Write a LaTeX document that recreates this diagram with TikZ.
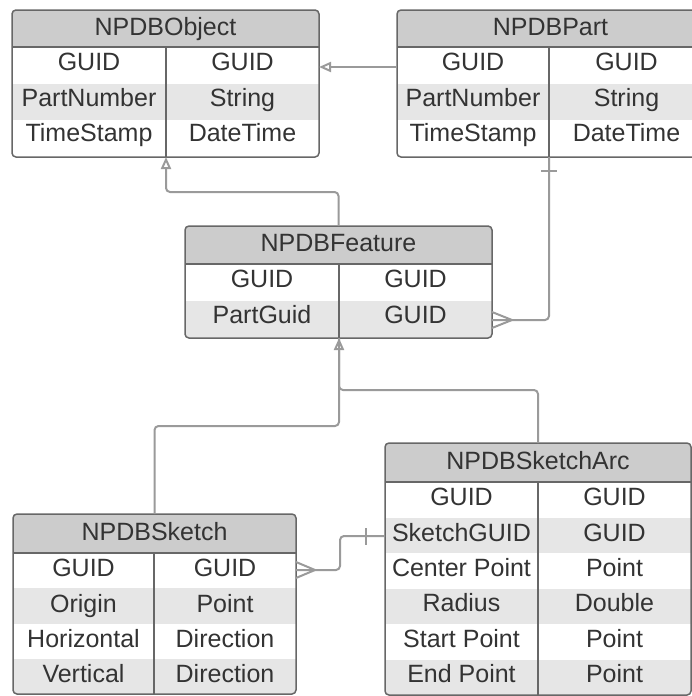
\documentclass[tikz,border=0pt]{standalone}
\usepackage{fontspec}
\setmainfont{Liberation Sans}
\usetikzlibrary{arrows.meta,calc}

\definecolor{hdrfill}{HTML}{CCCCCC}
\definecolor{bandfill}{HTML}{E6E6E6}
\definecolor{edgegray}{HTML}{676767}
\definecolor{ink}{HTML}{333333}
\definecolor{wiregray}{HTML}{9A9A9A}

\tikzset{
  cell/.style={text=ink, font=\fontsize{25}{28}\selectfont, inner sep=0pt,
    text height=17.9pt, text depth=0pt},
  boxline/.style={draw=edgegray, line width=1.5pt},
  wire/.style={draw=wiregray, line width=2pt, rounded corners=4pt},
  inherit/.style={-{Triangle[open, length=12pt, width=10pt, line width=2pt]}},
}

% \ertable{name}{x0}{y0}{x1}{y1}{x divider}{y header bottom}{title}{key/type rows}
\newcommand\ertable[9]{%
  \foreach \r [count=\k] in {#9} {\xdef\ernrows{\k}}%
  \pgfmathsetmacro\errowh{(#5-#7)/\ernrows}%
  \begin{scope}
    \clip[rounded corners=4pt] (#2,#3) rectangle (#4,#5);
    \fill[hdrfill] (#2,#3) rectangle (#4,#7);
    \foreach \a/\b [count=\i] in {#9} {
      \ifodd\i\else
        \fill[bandfill] (#2,{#7+(\i-1)*\errowh}) rectangle (#4,{#7+\i*\errowh});
      \fi
    }
  \end{scope}
  \node[cell] (#1-title) at ({(#2+#4)/2},{(#3+#7)/2-2}) {#8};
  \foreach \a/\b [count=\i] in {#9} {
    \node[cell] (#1-k\i) at ({(#2+#6)/2},{#7+14.8+(\i-1)*35.4}) {\a};
    \node[cell] (#1-v\i) at ({(#6+#4)/2},{#7+14.8+(\i-1)*35.4}) {\b};
  }
  \draw[boxline] (#2,#7) -- (#4,#7);
  \coordinate (#1-dn) at (#6,#7);
  \coordinate (#1-ds) at (#6,#5);
  \draw[boxline] (#1-dn) -- (#1-ds);
  \node[boxline, rounded corners=4pt, inner sep=0pt, outer sep=0pt,
    minimum width={(#4-#2)*1pt}, minimum height={(#5-#3)*1pt}]
    (#1) at ({(#2+#4)/2},{(#3+#5)/2}) {};
}

\begin{document}
\begin{tikzpicture}[x=1pt,y=-1pt]
\useasboundingbox (0,0) rectangle (692,696);

\ertable{obj}{12}{10}{319}{157}{166}{47}{NPDBObject}
  {GUID/GUID, PartNumber/String, TimeStamp/DateTime}
\ertable{part}{397}{10}{704}{157}{549}{47}{NPDBPart}
  {GUID/GUID, PartNumber/String, TimeStamp/DateTime}
\ertable{feat}{185}{226}{492}{338}{339}{264}{NPDBFeature}
  {GUID/GUID, PartGuid/GUID}
\ertable{sk}{13}{514}{296}{694}{154}{553}{NPDBSketch}
  {GUID/GUID, Origin/Point, Horizontal/Direction, Vertical/Direction}
\ertable{arc}{385}{443}{691}{695}{538}{482}{NPDBSketchArc}
  {GUID/GUID, SketchGUID/GUID, Center Point/Point, Radius/Double, Start Point/Point, End Point/Point}

% inheritance: NPDBPart -> NPDBObject
\draw[wire, inherit] ($(part.north west)+(0,57)$) -- ($(obj.north east)+(0,57)$);

% inheritance: NPDBFeature -> NPDBObject
\draw[wire, inherit] (feat.north) -- ++(0,-34) -| (obj-ds);

% inheritance: NPDBSketch and NPDBSketchArc -> NPDBFeature
\draw[wire, inherit] (sk.north) -- ++(0,-88) -| (feat-ds);
\draw[wire] (arc.north) -- ++(0,-53) -| (feat-ds);

% one-to-many: NPDBPart -< NPDBFeature
\draw[wire] ($(feat.north east)+(0,94)$) -- ++(20,0) -| (part-ds);
\draw[wire, rounded corners=0pt] ($(feat.north east)+(0,86)$) -- ++(20,8) -- ++(-20,8);
\draw[wire] ($(part-ds)+(-8,14)$) -- ++(16,0);

% one-to-many: NPDBSketch -< NPDBSketchArc
\draw[wire] ($(sk.north east)+(0,56)$) -- ++(44,0) |- ($(arc.north west)+(0,93)$);
\draw[wire, rounded corners=0pt] ($(sk.north east)+(0,48)$) -- ++(19,8) -- ++(-19,8);
\draw[wire] ($(arc.north west)+(-19,85)$) -- ++(0,17);
\end{tikzpicture}
\end{document}
